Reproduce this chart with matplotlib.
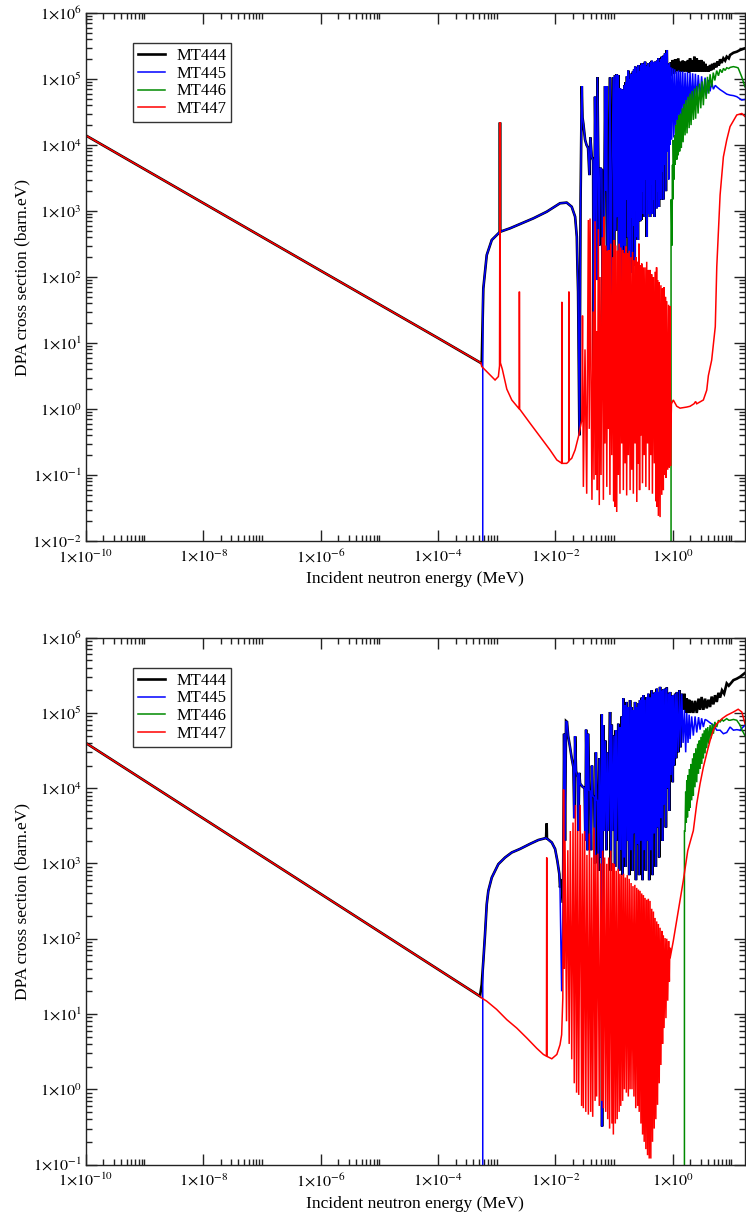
import numpy as np
import matplotlib
matplotlib.use("Agg")
import matplotlib.pyplot as plt
from matplotlib.ticker import FixedLocator, LogLocator, NullFormatter, FuncFormatter
from matplotlib.lines import Line2D

plt.rcParams['font.family'] = ['Liberation Serif', 'DejaVu Serif']
plt.rcParams['mathtext.fontset'] = 'stix'

LABELS = ['MT444', 'MT445', 'MT446', 'MT447']
COLORS = ['black', '#0000ff', '#008a00', '#ff0000']
ZERO = 1e-6   # stands for "no value" (below the log axis)

# ---------------------------------------------------------------- TOP PANEL
top_low = [(1e-10, 1.4e4), (1e-8, 1.32e3), (1e-6, 125), (1e-4, 11.9), (5.4e-4, 5.0)]

top_plateau_444 = [(5.57e-4, 4.9), (5.93e-4, 67), (6.78e-4, 215), (8.26e-4, 364),
                   (1.13e-3, 480), (1.14e-3, 2.2e4), (1.15e-3, 485), (1.69e-3, 547),
                   (2.51e-3, 635), (4.22e-3, 774), (7.13e-3, 975), (1.20e-2, 1310),
                   (1.56e-2, 1340), (1.90e-2, 1160), (2.17e-2, 820), (2.32e-2, 408),
                   (2.37e-2, 163)]
top_plateau_445 = [(5.8e-4, ZERO), (5.8e-4, 40), (5.93e-4, 67), (6.78e-4, 215), (8.26e-4, 364),
                   (1.14e-3, 485), (1.69e-3, 547), (2.51e-3, 635), (4.22e-3, 774),
                   (7.13e-3, 975), (1.20e-2, 1310), (1.56e-2, 1340), (1.90e-2, 1160),
                   (2.17e-2, 820), (2.32e-2, 408), (2.37e-2, 163)]

top_forest = [
    (0.0244, 60), (0.0257, 0.40), (0.0269, 1.5e3), (0.0282, 7.8e4), (0.0290, 2.6e4),
    (0.0300, 2.1e4), (0.0321, 1.2e4), (0.0340, 1.0e4), (0.0361, 9.0e3), (0.0380, 3.5e3),
    (0.0395, 1.3e4), (0.0417, 6.6e3), (0.0440, 5.9e3), (0.0452, 1.4), (0.0474, 5.4e4),
    (0.0490, 5.3e3), (0.0505, 90), (0.0520, 1.06e5), (0.0540, 5.0e3), (0.0560, 300),
    (0.0580, 4.5e3), (0.0620, 4.2e3), (0.0650, 1.4), (0.0703, 7.8e4), (0.0725, 2.0e3),
    (0.0752, 7.8e4), (0.0780, 1.5), (0.0800, 81), (0.0855, 1.06e5), (0.0880, 1.4),
    (0.0914, 3.0e3), (0.0973, 1.07e5), (0.1000, 181), (0.1040, 1.15e5), (0.1070, 500),
    (0.1110, 1.19e5), (0.1140, 800), (0.1180, 1.15e5), (0.1220, 1.4), (0.1260, 7.2e4),
    (0.1300, 100), (0.1350, 7.0e4), (0.1380, 1.4), (0.1410, 6.8e4), (0.1450, 300),
    (0.1500, 8.0e4), (0.1540, 100), (0.1580, 9.0e4), (0.1620, 1.5e3), (0.1660, 1.1e5),
    (0.1700, 400), (0.1750, 1.34e5), (0.1790, 1.4), (0.1830, 1.0e5), (0.1870, 115),
    (0.1910, 1.2e5), (0.1950, 800), (0.2000, 1.19e5), (0.2050, 115), (0.2100, 1.3e5),
    (0.2150, 600), (0.2200, 1.4e5), (0.2250, 150), (0.2300, 1.54e5), (0.2350, 1.0e3),
    (0.2400, 1.2e5), (0.2450, 400), (0.2500, 1.5e5), (0.2550, 364), (0.2600, 1.63e5),
    (0.2660, 1.2e3), (0.2720, 1.3e5), (0.2780, 700), (0.2840, 1.6e5), (0.2900, 731),
    (0.2960, 1.73e5), (0.3020, 2.0e3), (0.3090, 1.4e5), (0.3160, 900), (0.3230, 1.7e5),
    (0.3300, 811), (0.3370, 1.83e5), (0.3440, 3.0e3), (0.3520, 1.5e5), (0.3600, 404),
    (0.3680, 1.6e5), (0.3760, 1.5e3), (0.3840, 1.73e5), (0.3920, 900), (0.4010, 1.5e5),
    (0.4100, 811), (0.4190, 1.8e5), (0.4280, 2.5e3), (0.4380, 1.89e5), (0.4480, 900),
    (0.4580, 1.6e5), (0.4680, 1.5e3), (0.4780, 1.8e5), (0.4880, 811), (0.4990, 1.83e5),
    (0.5100, 3.0e3), (0.5210, 1.7e5), (0.5320, 1.1e3), (0.5440, 1.9e5), (0.5560, 2.0e3),
    (0.5690, 2.06e5), (0.5820, 1.15e3), (0.5950, 1.8e5), (0.6080, 3.0e3), (0.6220, 2.0e5),
    (0.6360, 1.5e3), (0.6500, 2.18e5), (0.6650, 4.0e3), (0.6800, 2.0e5), (0.6950, 1.5e3),
    (0.7100, 2.3e5), (0.7250, 5.0e3), (0.7400, 2.45e5)]

top_tail_445 = [
    (0.7650, 2.0e3), (0.7900, 2.75e5), (0.8100, 8.0e3), (0.8350, 1.6e5), (0.8550, 3.0e3),
    (0.8750, 1.73e5), (0.9000, 1.0e4), (0.9300, 1.5e5), (0.9600, 1.2e4), (1.00, 1.45e5),
    (1.04, 1.3e4), (1.08, 1.4e5), (1.12, 1.5e4), (1.17, 1.3e5), (1.21, 1.7e4), (1.26, 1.35e5),
    (1.31, 2.0e4), (1.36, 1.3e5), (1.42, 2.2e4), (1.48, 1.3e5), (1.55, 2.6e4), (1.62, 1.25e5),
    (1.70, 3.0e4), (1.78, 1.28e5), (1.87, 3.4e4), (1.97, 1.25e5), (2.07, 3.8e4), (2.18, 1.22e5),
    (2.30, 4.2e4), (2.43, 1.2e5), (2.56, 4.6e4), (2.72, 1.15e5), (2.92, 5.0e4), (3.10, 1.1e5),
    (3.32, 5.5e4), (3.55, 1.05e5), (3.79, 6.0e4), (4.05, 9.7e4), (4.32, 6.5e4), (4.60, 9.0e4),
    (4.92, 7.0e4), (5.3, 8.0e4), (5.62, 7.6e4), (6.4, 6.9e4), (7.28, 6.4e4), (8.3, 5.9e4),
    (9.46, 5.7e4), (10.8, 5.6e4), (12.3, 5.4e4), (14.0, 5.0e4), (15.0, 4.8e4), (17.0, 4.9e4)]

top_tail_444 = [
    (0.765, 2.0e3), (0.79, 2.75e5), (0.81, 1.0e5), (0.835, 1.7e5), (0.855, 1.1e5), (0.875, 1.73e5),
    (0.90, 1.1e5), (0.93, 1.8e5), (0.96, 1.15e5), (1.0, 1.94e5), (1.05, 1.2e5), (1.10, 2.0e5),
    (1.17, 1.3e5), (1.24, 2.06e5), (1.30, 1.3e5), (1.36, 1.83e5), (1.42, 1.3e5), (1.48, 1.9e5),
    (1.55, 1.3e5), (1.64, 1.85e5), (1.73, 1.3e5), (1.82, 1.94e5), (1.90, 1.25e5), (1.97, 2.06e5),
    (2.07, 1.3e5), (2.15, 1.9e5), (2.24, 1.3e5), (2.33, 2.18e5), (2.45, 1.3e5), (2.56, 2.06e5),
    (2.7, 1.3e5), (2.8, 1.9e5), (2.92, 1.3e5), (3.05, 1.94e5), (3.2, 1.3e5), (3.32, 1.83e5),
    (3.45, 1.3e5), (3.6, 1.7e5), (3.79, 1.3e5), (3.95, 1.54e5), (4.1, 1.3e5), (4.32, 1.63e5),
    (4.5, 1.35e5), (4.7, 1.7e5), (4.92, 1.4e5), (5.2, 1.75e5), (5.5, 1.5e5), (5.8, 1.85e5),
    (6.1, 1.6e5), (6.4, 1.99e5), (6.8, 1.75e5), (7.28, 2.06e5), (7.8, 1.9e5), (8.3, 2.18e5),
    (9.0, 2.05e5), (9.46, 2.31e5), (10.8, 2.5e5), (12.3, 2.59e5), (14.0, 2.75e5), (17.0, 2.92e5)]

top_446 = [
    (0.935, ZERO), (0.935, 1.47e3), (0.95, 1.5e3), (0.97, 3e2), (0.99, 5e3), (1.00, 1.5e3),
    (1.02, 1.19e4), (1.05, 3e3), (1.08, 1.4e4), (1.10, 5e3), (1.13, 2.0e4), (1.17, 6e3),
    (1.20, 2.4e4), (1.24, 7e3), (1.27, 2.8e4), (1.31, 8e3), (1.35, 3.0e4), (1.40, 9e3),
    (1.45, 3.6e4), (1.50, 1.1e4), (1.56, 4.2e4), (1.62, 1.4e4), (1.68, 4.8e4), (1.75, 1.5e4),
    (1.82, 5.4e4), (1.90, 1.8e4), (1.97, 6.0e4), (2.05, 2.0e4), (2.14, 6.6e4), (2.24, 2.4e4),
    (2.35, 7.2e4), (2.45, 2.5e4), (2.56, 7.8e4), (2.70, 3.0e4), (2.85, 8.5e4), (3.0, 3.6e4),
    (3.15, 9.2e4), (3.32, 4.0e4), (3.5, 1.0e5), (3.7, 5.0e4), (3.9, 1.08e5), (4.1, 6.0e4),
    (4.32, 1.18e5), (4.6, 7.5e4), (4.9, 1.25e5), (5.2, 9.5e4), (5.6, 1.34e5), (6.0, 1.12e5),
    (6.4, 1.40e5), (6.9, 1.25e5), (7.3, 1.45e5), (7.8, 1.35e5), (8.3, 1.48e5), (9.0, 1.44e5),
    (9.5, 1.50e5), (10.8, 1.54e5), (12.3, 1.50e5), (13.0, 1.47e5), (14.0, 1.25e5),
    (15.0, 1.07e5), (17.0, 7.6e4)]

top_447_low = [(5.57e-4, 4.4), (7.2e-4, 3.5), (9.4e-4, 2.75), (1.07e-3, 3.1), (1.12e-3, 4.5),
               (1.14e-3, 2.2e4), (1.16e-3, 5.0), (1.25e-3, 4.0), (1.49e-3, 2.0), (1.81e-3, 1.37),
               (2.43e-3, 1.0), (2.44e-3, 60), (2.46e-3, 1.0), (3.7e-3, 0.61), (5.5e-3, 0.38),
               (8.1e-3, 0.24), (1.06e-2, 0.169), (1.28e-2, 0.151), (1.29e-2, 42), (1.30e-2, 0.150),
               (1.56e-2, 0.150), (1.69e-2, 0.16), (1.70e-2, 60), (1.71e-2, 0.165), (1.90e-2, 0.179),
               (2.17e-2, 0.24), (2.47e-2, 0.38), (2.82e-2, 0.68)]
top_447_forest = [
    (0.0290, 26), (0.0300, 0.066), (0.0320, 8), (0.0342, 0.052), (0.0365, 731), (0.0378, 0.5),
    (0.0390, 770), (0.0420, 0.042), (0.0440, 30), (0.0455, 0.085), (0.0474, 700), (0.0490, 0.1),
    (0.0505, 15), (0.0520, 0.059), (0.0540, 530), (0.0560, 0.035), (0.0577, 100), (0.0600, 0.1),
    (0.0630, 400), (0.0658, 0.042), (0.0680, 820), (0.0700, 0.3), (0.0725, 300), (0.0752, 0.066),
    (0.0775, 250), (0.0800, 0.5), (0.0820, 257), (0.0850, 0.05), (0.0880, 320), (0.0914, 0.2),
    (0.0950, 200), (0.0985, 0.04), (0.1010, 364), (0.1040, 0.033), (0.1070, 300), (0.1110, 0.0275),
    (0.1150, 250), (0.1180, 0.1), (0.1220, 320), (0.1260, 0.052), (0.1300, 280), (0.1350, 0.3),
    (0.1400, 257), (0.1440, 0.059), (0.1490, 230), (0.1540, 0.15), (0.1590, 290), (0.1640, 0.049),
    (0.1700, 230), (0.1750, 0.2), (0.1810, 250), (0.1875, 0.059), (0.1930, 200), (0.2000, 0.12),
    (0.2070, 240), (0.2130, 0.052), (0.2200, 180), (0.2280, 0.3), (0.2350, 200), (0.2440, 0.039),
    (0.2530, 170), (0.2600, 0.15), (0.2650, 320), (0.2720, 0.059), (0.2800, 150), (0.2880, 0.4),
    (0.2960, 160), (0.3050, 0.075), (0.3160, 140), (0.3260, 0.2), (0.3370, 140), (0.3480, 0.066),
    (0.3600, 170), (0.3720, 0.3), (0.3850, 128), (0.3970, 0.059), (0.4100, 128), (0.4230, 0.2),
    (0.4360, 110), (0.4500, 0.052), (0.4680, 100), (0.4850, 0.15), (0.5000, 120), (0.5200, 0.04),
    (0.5300, 140), (0.5400, 0.033), (0.5500, 90), (0.5690, 0.024), (0.5880, 84), (0.6080, 0.023),
    (0.6280, 75), (0.6500, 0.05), (0.6700, 67), (0.6900, 0.059), (0.7100, 70), (0.7300, 0.1),
    (0.7500, 50), (0.7700, 0.09), (0.7900, 43), (0.8200, 0.12), (0.8500, 38), (0.8750, 0.13),
    (0.9000, 36), (0.9150, 0.137), (0.93, 0.5), (0.95, 1.2)]
top_447_high = [(1.02, 1.37), (1.17, 1.1), (1.33, 1.03), (1.73, 1.07), (1.97, 1.1), (2.3, 1.2),
                (2.45, 1.3), (2.56, 1.2), (3.32, 1.37), (3.79, 1.93), (4.04, 3.2), (4.6, 5.5),
                (5.3, 17.7), (5.62, 143), (6.0, 515), (6.4, 1.75e3), (7.28, 6.6e3), (8.3, 1.19e4),
                (9.46, 1.9e4), (12.3, 2.85e4), (15.0, 3.0e4), (17.0, 2.7e4)]

# ------------------------------------------------------------- BOTTOM PANEL
bot_low = [(1e-10, 4.0e4), (1e-8, 3.98e3), (1e-6, 395), (1e-4, 39.3), (5.2e-4, 17.2)]

bot_plateau_444 = [(5.57e-4, 24.7), (5.93e-4, 50.5), (6.34e-4, 114), (6.78e-4, 288), (7.22e-4, 433),
                   (8.26e-4, 650), (1.07e-3, 981), (1.39e-3, 1.2e3), (1.81e-3, 1.4e3), (2.5e-3, 1.56e3),
                   (3.7e-3, 1.82e3), (5.13e-3, 2.05e3), (6.95e-3, 2.18e3), (7.10e-3, 3.4e3),
                   (7.2e-3, 2.15e3), (8.7e-3, 1.9e3), (9.9e-3, 1.56e3), (1.08e-2, 1.09e3),
                   (1.17e-2, 722), (1.20e-2, 480), (1.26e-2, 620)]
bot_plateau_445 = [(5.8e-4, ZERO), (5.8e-4, 40), (5.93e-4, 50.5), (6.34e-4, 114), (6.78e-4, 288),
                   (7.22e-4, 433), (8.26e-4, 650), (1.07e-3, 981), (1.39e-3, 1.2e3), (1.81e-3, 1.4e3),
                   (2.5e-3, 1.56e3), (3.7e-3, 1.82e3), (5.13e-3, 2.05e3), (6.95e-3, 2.18e3),
                   (8.7e-3, 1.9e3), (9.9e-3, 1.56e3), (1.08e-2, 1.09e3), (1.17e-2, 722),
                   (1.20e-2, 479), (1.24e-2, 100), (1.28e-2, 20)]

bot_forest = [
    (0.0135, 300), (0.0141, 5.3e4), (0.0146, 2.0e3), (0.0152, 7.8e4), (0.0158, 7.6e4),
    (0.0165, 5.0e4), (0.0178, 3.5e4), (0.0190, 2.5e4), (0.0203, 1.9e4), (0.0210, 4.0e3),
    (0.0217, 4.9e4), (0.0225, 1.7e4), (0.0240, 1.4e4), (0.0247, 2.7e3), (0.0255, 1.6e4),
    (0.0264, 1.15e4), (0.0290, 1.05e4), (0.0315, 1.0e4), (0.0325, 2.0e3), (0.0334, 6.0e4),
    (0.0345, 1.0e4), (0.0352, 1.5e3), (0.0360, 5.3e4), (0.0375, 9.5e3), (0.0390, 9.2e3),
    (0.0405, 1.5e3), (0.0420, 2.0e4), (0.0433, 8.0e3), (0.0460, 7.5e3), (0.0475, 1.0e3),
    (0.0490, 3.0e4), (0.0505, 7.0e3), (0.0520, 6.9e3), (0.0540, 800), (0.0560, 2.5e4),
    (0.0590, 1.2e3), (0.0617, 9.6e4), (0.0625, 0.32), (0.0640, 5.0e3), (0.0658, 6.9e4),
    (0.0680, 2.7e3), (0.0710, 4.3e4), (0.0740, 1.5e3), (0.0770, 3.0e4), (0.0800, 2.7e3),
    (0.0855, 1.03e5), (0.0880, 800), (0.0914, 7.0e4), (0.0950, 2.7e3), (0.1000, 5.0e4),
    (0.1040, 900), (0.1070, 5.9e4), (0.1100, 2.0e3), (0.1180, 7.2e4), (0.1220, 800),
    (0.1260, 6.5e4), (0.1300, 1.5e3), (0.1350, 9.0e4), (0.1400, 700), (0.1440, 1.56e5),
    (0.1490, 1.2e3), (0.1540, 1.27e5), (0.1580, 900), (0.1640, 1.4e5), (0.1700, 2.0e3),
    (0.1750, 1.2e5), (0.1810, 700), (0.1875, 1.48e5), (0.1940, 1.5e3), (0.2000, 1.2e5),
    (0.2070, 800), (0.2140, 1.09e5), (0.2210, 2.5e3), (0.2280, 1.4e5), (0.2360, 600),
    (0.2440, 1.2e5), (0.2520, 1.8e3), (0.2600, 1.35e5), (0.2680, 700), (0.2770, 1.48e5),
    (0.2860, 2.0e3), (0.2960, 1.6e5), (0.3060, 600), (0.3160, 1.72e5), (0.3260, 1.5e3),
    (0.3370, 1.5e5), (0.3480, 800), (0.3600, 1.63e5), (0.3720, 2.0e3), (0.3840, 1.8e5),
    (0.3970, 600), (0.4100, 1.6e5), (0.4230, 1.5e3), (0.4380, 2.0e5), (0.4520, 700),
    (0.4680, 1.8e5), (0.4830, 2.5e3), (0.4990, 1.9e5), (0.5150, 900), (0.5330, 2.1e5),
    (0.5500, 3.0e3), (0.5690, 1.9e5), (0.5880, 1.2e3), (0.6080, 2.22e5), (0.6280, 4.0e3),
    (0.6500, 2.0e5), (0.6700, 2.0e3), (0.6900, 2.05e5), (0.7150, 6.0e3), (0.7400, 2.1e5),
    (0.7650, 3.0e3), (0.7900, 2.18e5), (0.8200, 1.0e4), (0.8500, 1.8e5), (0.8750, 5.0e3),
    (0.9000, 1.9e5), (0.9300, 1.5e4), (0.9600, 1.7e5), (1.0000, 1.2e4), (1.0200, 1.72e5),
    (1.0600, 2.0e4), (1.1000, 1.8e5), (1.1400, 2.5e4), (1.1800, 1.9e5), (1.2400, 3.0e4),
    (1.3000, 2.0e5), (1.3600, 3.5e4), (1.4200, 1.8e5)]

bot_tail_445 = [
    (1.50, 4.0e4), (1.58, 1.1e5), (1.66, 3.0e4), (1.73, 1.0e5), (1.82, 4.0e4), (1.90, 9.5e4),
    (1.97, 4.5e4), (2.1, 9.0e4), (2.24, 5.0e4), (2.4, 9.0e4), (2.56, 5.5e4), (2.75, 8.8e4),
    (2.92, 6.0e4), (3.1, 8.5e4), (3.32, 6.5e4), (3.55, 8.2e4), (3.79, 8.0e4), (4.32, 7.4e4),
    (4.92, 6.9e4), (5.62, 5.9e4), (6.4, 5.9e4), (7.28, 5.3e4), (8.3, 5.5e4), (9.46, 6.5e4),
    (10.8, 5.9e4), (12.3, 6.0e4), (14.0, 5.9e4), (17.0, 6.9e4)]

bot_tail_444 = [
    (1.50, 1.1e5), (1.58, 1.8e5), (1.66, 1.0e5), (1.73, 1.56e5), (1.82, 1.0e5), (1.90, 1.5e5),
    (1.97, 1.0e5), (2.1, 1.45e5), (2.24, 1.0e5), (2.4, 1.45e5), (2.56, 1.0e5), (2.75, 1.55e5),
    (2.92, 1.1e5), (3.1, 1.63e5), (3.32, 1.1e5), (3.55, 1.55e5), (3.79, 1.15e5), (4.05, 1.5e5),
    (4.32, 1.2e5), (4.6, 1.65e5), (4.92, 1.3e5), (5.25, 1.72e5), (5.62, 1.4e5), (6.0, 1.85e5),
    (6.4, 1.6e5), (6.9, 2.0e5), (7.5, 1.8e5), (8.3, 2.47e5), (9.0, 2.3e5), (10.8, 2.73e5),
    (12.3, 2.85e5), (14.0, 3.02e5), (17.0, 3.4e5)]

bot_446 = [
    (1.58, ZERO), (1.58, 2.7e3), (1.62, 2.7e3), (1.66, 9.0e3), (1.70, 3.5e3), (1.73, 1.27e4),
    (1.78, 4.1e3), (1.83, 1.5e4), (1.88, 5.0e3), (1.93, 1.8e4), (1.97, 5.5e3), (2.03, 2.1e4),
    (2.10, 6.9e3), (2.17, 2.5e4), (2.24, 8.0e3), (2.31, 2.9e4), (2.39, 1.03e4), (2.47, 3.4e4),
    (2.56, 1.2e4), (2.65, 3.9e4), (2.74, 1.55e4), (2.83, 4.3e4), (2.92, 1.8e4), (3.02, 4.8e4),
    (3.12, 2.1e4), (3.22, 5.3e4), (3.32, 2.5e4), (3.43, 5.9e4), (3.55, 2.9e4), (3.67, 6.2e4),
    (3.79, 3.4e4), (3.95, 6.5e4), (4.1, 3.9e4), (4.32, 6.9e4), (4.5, 4.6e4), (4.7, 7.2e4),
    (4.92, 5.3e4), (5.2, 7.6e4), (5.62, 6.5e4), (6.0, 8.0e4), (6.4, 7.6e4), (6.9, 8.2e4),
    (7.28, 7.8e4), (8.3, 8.4e4), (9.0, 8.0e4), (9.46, 8.0e4), (10.8, 8.2e4), (12.3, 8.0e4),
    (14.0, 6.9e4), (15.0, 6.0e4), (17.0, 5.0e4)]

bot_447_low = [(5.57e-4, 16.3), (6.78e-4, 14.8), (1.0e-3, 11.5), (1.49e-3, 8.4), (2.2e-3, 6.5),
               (3.26e-3, 4.8), (4.82e-3, 3.5), (6.25e-3, 2.9), (7.05e-3, 2.75), (7.13e-3, 1.2e3),
               (7.2e-3, 2.73), (8.7e-3, 2.54), (1.06e-2, 2.9), (1.20e-2, 3.9), (1.28e-2, 5.3),
               (1.34e-2, 16.3)]
bot_447_forest = [
    (0.0138, 9.6e3), (0.0142, 40), (0.0146, 2.0e3), (0.0155, 8), (0.0163, 1.5e3), (0.0172, 4),
    (0.0180, 2.7e3), (0.0190, 2.5), (0.0200, 3.5e3), (0.0210, 1.2), (0.0220, 6.0e3), (0.0230, 0.9),
    (0.0240, 2.7e3), (0.0250, 0.84), (0.0265, 6.0e3), (0.0280, 0.6), (0.0290, 2.5e3), (0.0300, 0.56),
    (0.0315, 2.7e3), (0.0330, 0.5), (0.0345, 1.3e3), (0.0365, 0.46), (0.0380, 2.5e3), (0.0400, 0.5),
    (0.0415, 1.2e3), (0.0433, 0.43), (0.0455, 3.0e3), (0.0475, 0.7), (0.0490, 1.3e3), (0.0505, 0.8),
    (0.0530, 1.35e3), (0.0560, 0.6), (0.0590, 1.0e3), (0.0617, 0.7), (0.0640, 1.48e3), (0.0658, 0.56),
    (0.0690, 1.2e3), (0.0720, 0.5), (0.0752, 990), (0.0780, 0.4), (0.0810, 1.2e3), (0.0840, 0.3),
    (0.0880, 1.48e3), (0.0920, 0.35), (0.0950, 1.0e3), (0.0973, 0.25), (0.1010, 990), (0.1050, 0.35),
    (0.1090, 800), (0.1130, 0.4), (0.1180, 850), (0.1220, 0.5), (0.1260, 730), (0.1300, 0.6),
    (0.1350, 700), (0.1400, 0.7), (0.1450, 730), (0.1500, 1.0), (0.1560, 650), (0.1620, 0.9),
    (0.1680, 700), (0.1750, 0.8), (0.1810, 625), (0.1875, 1.0), (0.1950, 550), (0.2020, 1.0),
    (0.2100, 500), (0.2180, 0.8), (0.2260, 520), (0.2340, 0.56), (0.2430, 474), (0.2520, 0.6),
    (0.2600, 450), (0.2680, 0.5), (0.2770, 433), (0.2870, 0.35), (0.2960, 400), (0.3060, 0.25),
    (0.3160, 380), (0.3260, 0.2), (0.3370, 349), (0.3480, 0.16), (0.3600, 330), (0.3720, 0.133),
    (0.3840, 340), (0.3970, 0.12), (0.4100, 318), (0.4230, 0.12), (0.4380, 250), (0.4520, 0.2),
    (0.4680, 230), (0.4830, 0.3), (0.4990, 189), (0.5150, 0.4), (0.5330, 170), (0.5500, 0.62),
    (0.5690, 157), (0.5880, 1.2), (0.6080, 140), (0.6280, 2.1), (0.6500, 127), (0.6700, 4.0),
    (0.6900, 110), (0.7100, 6.5), (0.7400, 102), (0.7650, 8.8), (0.7900, 100), (0.8200, 15),
    (0.8500, 93), (0.8750, 27), (0.8900, 76), (0.90, 55)]
bot_447_high = [(1.02, 93), (1.24, 234), (1.51, 588), (1.80, 1.48e3), (2.24, 2.73e3), (2.56, 6.2e3),
                (2.92, 1.15e4), (3.32, 1.9e4), (3.79, 2.9e4), (4.32, 4.3e4), (4.92, 5.9e4),
                (5.62, 7.2e4), (6.9, 8.4e4), (8.3, 9.3e4), (10.8, 1.03e5), (13.0, 1.12e5),
                (15.0, 1.03e5), (17.0, 7.2e4)]

X_LIM = (1e-10, 17.0)
TOP_YLIM = (1e-2, 1e6)
BOT_YLIM = (1e-1, 1e6)
X_MAJOR = [1e-10, 1e-8, 1e-6, 1e-4, 1e-2, 1e0]


def xy(*parts):
    pts = [p for part in parts for p in part]
    e, s = zip(*pts)
    return np.array(e), np.array(s)


def series_top():
    return [xy(top_low, top_plateau_444, top_forest, top_tail_444),
            xy(top_plateau_445, top_forest, top_tail_445),
            xy(top_446),
            xy(top_low, top_447_low, top_447_forest, top_447_high)]


def series_bot():
    return [xy(bot_low, bot_plateau_444, bot_forest, bot_tail_444),
            xy(bot_plateau_445, bot_forest, bot_tail_445),
            xy(bot_446),
            xy(bot_low, bot_447_low, bot_447_forest, bot_447_high)]


def sci(v, pos):
    ex = int(round(np.log10(v)))
    return r'$1{\times}10^{%d}$' % ex


W, H = 746, 1213
fig = plt.figure(figsize=(W / 100, H / 100), dpi=100)
ax_top = fig.add_axes([85.7 / W, 1 - 541 / H, (745 - 85.7) / W, (541 - 13) / H])
ax_bot = fig.add_axes([85.7 / W, 1 - 1164.5 / H, (745 - 85.7) / W, (1164.5 - 637.7) / H])

LW_THICK, LW_THIN = 1.9, 1.1

for ax, data, ylim, xlab_y in ((ax_top, series_top(), TOP_YLIM, -0.056),
                               (ax_bot, series_bot(), BOT_YLIM, -0.060)):
    ax.set_xscale('log')
    ax.set_yscale('log')
    for (e, s), c, lab in zip(data, COLORS, LABELS):
        lw = LW_THICK if lab == 'MT444' else LW_THIN
        ax.plot(e, s, color=c, lw=lw, solid_joinstyle='miter', label=lab)
    ax.set_xlim(*X_LIM)
    ax.set_ylim(*ylim)
    ax.xaxis.set_major_locator(FixedLocator(X_MAJOR))
    ax.xaxis.set_minor_locator(FixedLocator([k * m for m in X_MAJOR for k in range(2, 11)]))
    ax.yaxis.set_major_locator(LogLocator(base=10, numticks=20))
    ax.yaxis.set_minor_locator(LogLocator(base=10, subs=np.arange(2, 10), numticks=20))
    ax.xaxis.set_major_formatter(FuncFormatter(sci))
    ax.yaxis.set_major_formatter(FuncFormatter(sci))
    ax.xaxis.set_minor_formatter(NullFormatter())
    ax.yaxis.set_minor_formatter(NullFormatter())
    ax.tick_params(which='both', direction='in', top=True, right=True, width=1.0, color='#222222')
    ax.tick_params(which='major', length=8, labelsize=11.5)
    ax.tick_params(axis='x', which='major', pad=6)
    ax.tick_params(axis='y', which='major', pad=3)
    ax.tick_params(which='minor', length=4.5)
    for sp in ax.spines.values():
        sp.set_linewidth(1.0)
        sp.set_color('#222222')
    ax.set_ylabel('DPA cross section (barn.eV)', fontsize=12.5)
    ax.set_xlabel('Incident neutron energy (MeV)', fontsize=12.5)
    ax.yaxis.set_label_coords(-0.0845, 0.5)
    ax.xaxis.set_label_coords(0.5, xlab_y)
    handles = [Line2D([], [], color=c, lw=(LW_THICK if l == 'MT444' else LW_THIN))
               for c, l in zip(COLORS, LABELS)]
    leg = ax.legend(handles, LABELS, loc='upper left', bbox_to_anchor=(0.0717, 0.943),
                    borderaxespad=0, fontsize=12, handlelength=1.6, handletextpad=0.7,
                    labelspacing=0.1, borderpad=0.3, fancybox=False, framealpha=1,
                    edgecolor='#333333')
    leg.get_frame().set_linewidth(1.0)

fig.savefig('out.png', dpi=100)
